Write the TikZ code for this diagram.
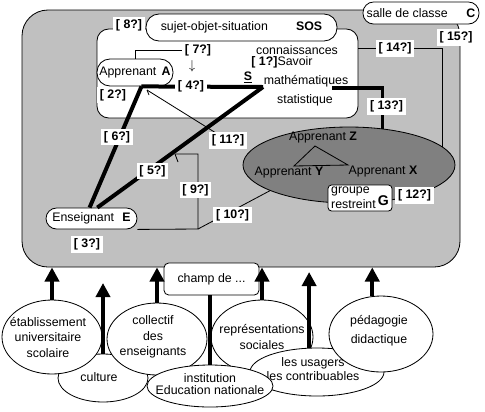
\documentclass[tikz,border=0pt]{standalone}
\usepackage{fontspec}
\setmainfont{Liberation Sans}
\usetikzlibrary{positioning,shapes.geometric,arrows.meta}
\definecolor{silver}{RGB}{192,192,192}
\definecolor{groupgray}{RGB}{128,128,128}
\tikzstyle{lbl}=[fill=white, font=\bfseries, inner xsep=2.5pt, inner ysep=2pt]
\tikzstyle{pill}=[draw, fill=white, inner sep=0pt, line width=0.7pt]
\tikzstyle{bubble}=[draw, fill=white, ellipse, inner sep=0pt, line width=0.7pt]
\tikzstyle{wire}=[line width=0.7pt]
\tikzstyle{heavy}=[line width=3.4pt]
\tikzstyle{push}=[line width=3.4pt, -{Triangle[length=12pt,width=12pt]}]
\begin{document}
\fontsize{10.5}{13}\selectfont
\begin{tikzpicture}[x=0.85pt, y=-0.85pt]
\useasboundingbox (0,0) rectangle (485,411);

\node[draw, fill=silver, rounded corners=22pt, minimum width=372.3pt, minimum height=218.45pt, line width=0.7pt] (classe) at (241,138.5) {};
\node[pill, rounded corners=9pt, minimum width=98.6pt, minimum height=18.7pt] (salle) at (421,13) {salle de classe\hspace{16pt}\textbf{C}};
\node[draw, fill=white, rounded corners=10pt, minimum width=221.85pt, minimum height=75.65pt, line width=0.7pt] (savoir) at (227.5,73.5) {};
\node[pill, rounded corners=11pt, minimum width=162.35pt, minimum height=22.95pt] (sos) at (241.5,27.5) {sujet-objet-situation\hspace{24pt}\textbf{SOS}};
\node[draw, fill=groupgray, ellipse, inner sep=0pt, minimum width=180.2pt, minimum height=64.6pt, line width=0.7pt] (grp) at (349,165) {};

\node (conn) at (297,50) {connaissances};
\node (sav) at (282,62) {\textbf{[ 1?]}Savoir};
\node (sletter) at (248,77) {\underline{\textbf{S}}};
\node (math) at (306,81) {mathématiques};
\node (stat) at (305,100) {statistique};
\node (dn) at (192,66) {$\downarrow$};

\node[pill, rounded corners=11pt, minimum width=64.6pt, minimum height=22.95pt] (appA) at (135,72.5) {Apprenant\hspace{4.5pt}\textbf{A}};
\node[pill, rounded corners=9pt, minimum width=77.35pt, minimum height=17.85pt] (ensE) at (91.5,218.5) {Enseignant\hspace{7pt}\textbf{E}};

\coordinate (spt) at (263,87);
\coordinate (a11) at (147,90);
\coordinate (t9) at (175,154);
\coordinate (bend9) at (198,229);
\coordinate (m13) at (332,88);
\coordinate (c14) at (395,48.5);
\coordinate (tz) at (315,146);
\coordinate (ty) at (294,166);
\coordinate (tx) at (348,165);

\draw[heavy] (appA.-65) -- (ensE.100);
\draw[heavy] (appA.-65) -- (spt);
\draw[heavy] (spt) -- (ensE.62);
\draw[wire] (a11) -- (228,140.5);
\draw[wire] (a11) -- ++(2,5);
\draw[wire] (t9) -- ++(3,8);
\draw[wire] (t9) -- (t9 -| bend9) -- (bend9) -- (ensE.south east);
\draw[wire] (bend9) -- (grp.198);
\draw[line width=2.6pt] (m13) -| (grp.47);
\draw[wire] (savoir.east |- c14) -| (grp.11);
\draw[wire] (tz) -- (ty) -- (tx) -- cycle;

\node (apZ) at (323,138) {Apprenant \textbf{Z}};
\node (apY) at (289,173) {Apprenant \textbf{Y}};
\node (apX) at (383,172) {Apprenant \textbf{X}};
\node[pill, rounded corners=3pt, minimum width=54.4pt, minimum height=22.1pt] (gbox) at (360,198) {\shortstack[l]{groupe\\restreint}\,\raisebox{3pt}{\large\bfseries G}};

\node[lbl] (l8) at (129,25.5) {[ 8?]};
\node[lbl] (l7) at (198,50) {[ 7?]};
\draw[wire] (l7.west) -| (appA.north);
\node[lbl] (l4) at (191,86) {[ 4?]};
\node[lbl] (l2) at (113,95) {[ 2?]};
\node[lbl] (l6) at (117,137) {[ 6?]};
\node[lbl] (l5) at (152.5,171) {[ 5?]};
\node[lbl] (l11) at (228,140.5) {[ 11?]};
\node[lbl] (l9) at (195.5,190) {[ 9?]};
\node[lbl] (l10) at (232.5,215) {[ 10?]};
\node[lbl] (l3) at (87,244.5) {[ 3?]};
\node[lbl] (l12) at (414.5,195.5) {[ 12?]};
\node[lbl] (l14) at (c14) {[ 14?]};
\node[lbl] (l13) at (386.5,106.5) {[ 13?]};
\node[lbl] (l15) at (456,37.5) {[ 15?]};

\node[bubble, minimum width=76.5pt, minimum height=40.8pt] (cult) at (103,378) {};
\node (culttxt) at (99,377) {culture};
\node[bubble, minimum width=85pt, minimum height=62.9pt] (etab) at (52,337) {};
\node[align=center] (etabtxt) at (48,337.5) {établissement\\universitaire\\scolaire};
\node[bubble, minimum width=85pt, minimum height=61.2pt] (coll) at (157,339) {};
\node[align=center] (colltxt) at (153,337) {collectif\\des\\enseignants};
\node[bubble, minimum width=86.7pt, minimum height=62.9pt] (repr) at (262,337) {};
\node[align=center] (reprtxt) at (262,337) {représentations\\sociales};
\node[bubble, minimum width=113.9pt, minimum height=40.8pt] (usag) at (317,372) {};
\node[align=center] (usagtxt) at (313,369) {les usagers\\[-1pt]les contribuables};
\node[bubble, minimum width=107.1pt, minimum height=35.7pt] (inst) at (210,386) {};
\node[align=center] (insttxt) at (210,384) {institution\\[-2.5pt]Education nationale};
\node[bubble, minimum width=88.4pt, minimum height=64.6pt] (ped) at (381,334) {};
\node[align=center] (pedtxt) at (379,331) {pédagogie\\[3pt]didactique};

\node[pill, rounded corners=4pt, minimum width=80.75pt, minimum height=27.2pt] (champ) at (211.5,279) {champ de ...};
\draw[heavy] (champ.south -| inst.north) -- (inst.north);

\coordinate (lift) at (0,283);
\coordinate (liftb) at (0,272);
\draw[push] (etab.north) -- (etab.north |- classe.south);
\draw[push] (cult.north) -- (cult.north |- lift);
\draw[push] (coll.north) -- (coll.north |- classe.south);
\draw[push] (repr.north) -- (repr.north |- classe.south);
\draw[push] (usag.108) -- (usag.108 |- liftb);
\draw[push] (ped.103) -- (ped.103 |- classe.south);
\end{tikzpicture}
\end{document}
